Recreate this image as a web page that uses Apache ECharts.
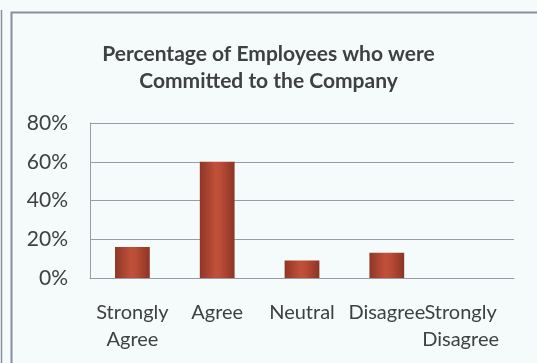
<!DOCTYPE html>
<html>
<head>
<meta charset="utf-8">
<script src="https://cdn.jsdelivr.net/npm/echarts@6/dist/echarts.min.js"></script>
<style>
  html, body { margin: 0; padding: 0; background: #f5fbfb; }
  #chart { width: 537px; height: 363px; }
</style>
</head>
<body>
<div id="chart"></div>
<script>
// Survey responses: share of employees committed to the company
const categories = ['Strongly\nAgree', 'Agree', 'Neutral', 'Disagree', 'Strongly\nDisagree'];
const percentValues = [16, 60, 9, 13, 0];
const yTicks = { min: 0, max: 80, interval: 20 };

const chart = echarts.init(document.getElementById('chart'), null, { renderer: 'canvas' });

const barFill = new echarts.graphic.LinearGradient(0, 0, 1, 0, [
  { offset: 0, color: '#8f3626' },
  { offset: 0.45, color: '#c0503a' },
  { offset: 0.6, color: '#bb4c37' },
  { offset: 1, color: '#8c3525' }
]);

// the last label is nudged left so it stays inside the plot frame
const categoryData = categories.map((name, i) =>
  i === categories.length - 1
    ? { value: name, textStyle: { padding: [0, 22, 0, 0] } }
    : name
);

chart.setOption({
  backgroundColor: '#f5fbfb',
  textStyle: { fontFamily: 'Lato' },
  title: {
    text: 'Percentage of Employees who were\nCommitted to the Company',
    left: 'center',
    top: 36,
    textStyle: {
      fontFamily: 'Lato',
      fontWeight: 'bold',
      fontSize: 21,
      lineHeight: 27,
      color: '#404040'
    }
  },
  grid: { left: 90, right: 23, top: 123, bottom: 85 },
  xAxis: {
    type: 'category',
    data: categoryData,
    axisLine: { show: true, lineStyle: { color: '#9a9aa8', width: 1 } },
    axisTick: { show: false },
    axisLabel: {
      interval: 0,
      margin: 21,
      fontSize: 20,
      lineHeight: 27,
      color: '#404040',
      fontFamily: 'Lato'
    }
  },
  yAxis: {
    type: 'value',
    min: yTicks.min,
    max: yTicks.max,
    interval: yTicks.interval,
    axisLine: { show: true, lineStyle: { color: '#9a9aa8', width: 1 } },
    axisTick: { show: false },
    splitLine: { lineStyle: { color: '#9a9aa8', width: 1 } },
    axisLabel: {
      margin: 22,
      fontSize: 21,
      color: '#404040',
      fontFamily: 'Lato',
      formatter: '{value}%'
    }
  },
  series: [{
    type: 'bar',
    data: percentValues,
    barWidth: '41%',
    itemStyle: { color: barFill },
    animation: false
  }],
  graphic: [
    {
      type: 'line',
      shape: { x1: 1.5, y1: 10, x2: 1.5, y2: 363 },
      style: { stroke: '#8a8e9a', lineWidth: 1.5 }
    },
    {
      type: 'polyline',
      shape: { points: [[11.5, 363], [11.5, 12.5], [537, 12.5]] },
      style: { stroke: '#8a8e9a', lineWidth: 2, fill: null }
    }
  ]
});
</script>
</body>
</html>
